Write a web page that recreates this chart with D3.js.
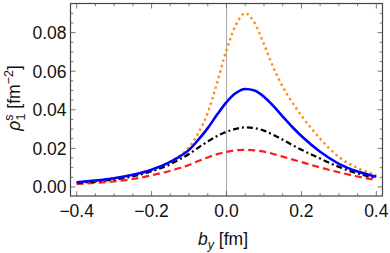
<!DOCTYPE html>
<html><head><meta charset="utf-8">
<script src="https://cdn.jsdelivr.net/npm/d3@7"></script>
<style>html,body{margin:0;padding:0;background:#fff;}svg{display:block;}</style>
</head><body>
<svg id="c" width="390" height="253"></svg>
<script>
const xs = [-0.4,-0.35,-0.3,-0.25,-0.2,-0.15,-0.125,-0.1,-0.075,-0.05,-0.025,0,0.025,0.05,0.075,0.1,0.125,0.15,0.175,0.2,0.25,0.3,0.35,0.4];
const blueY = [0.0024,0.0033,0.0045,0.0063,0.0089,0.0130,0.0157,0.0192,0.0245,0.0305,0.0375,0.0440,0.0487,0.0508,0.0500,0.0468,0.0420,0.0365,0.0312,0.0264,0.0182,0.0120,0.0080,0.0053];
const blackY = [0.0020,0.0028,0.0039,0.0055,0.0081,0.0118,0.0143,0.0171,0.0204,0.0236,0.0264,0.0286,0.0301,0.0309,0.0305,0.0292,0.0270,0.0245,0.0218,0.0193,0.0147,0.0104,0.0070,0.0046];
const redY = [0.0015,0.0021,0.0029,0.0041,0.0060,0.0084,0.0098,0.0114,0.0134,0.0153,0.0170,0.0182,0.0190,0.0192,0.0190,0.0183,0.0171,0.0157,0.0143,0.0129,0.0101,0.0076,0.0054,0.0036];
const orangeY = [0.0024,0.0033,0.0045,0.0063,0.0090,0.0132,0.0162,0.0205,0.0280,0.0385,0.0540,0.0710,0.0840,0.0900,0.0850,0.0740,0.0620,0.0520,0.0440,0.0370,0.0250,0.0155,0.0098,0.0062];
const xTicks = [-0.4,-0.2,0,0.2,0.4];
const yTicks = [0,0.02,0.04,0.06,0.08];

const svg = d3.select("#c");
const L=70.5, R=382.5, T=3.5, B=196;
const x = d3.scaleLinear().domain([-0.4165,0.4165]).range([L,R]);
const y = d3.scaleLinear().domain([-0.0047,0.0951]).range([B,T]);
const font = "'Liberation Sans', Arial, sans-serif";

svg.append("line").attr("x1",x(0)).attr("x2",x(0)).attr("y1",T).attr("y2",B)
  .attr("stroke","#aaa").attr("stroke-width",1);

const line = d3.line().x(d=>x(d[0])).y(d=>y(d[1])).curve(d3.curveMonotoneX);
const series = [
  {yv:redY, color:"#ff1a1a", dash:"7,4", w:2.2},
  {yv:blackY, color:"#000", dash:"6,3,2,3", w:2.2},
  {yv:orangeY, color:"#ff8c1a", dash:"2.4,3.2", w:2.4},
  {yv:blueY, color:"#0000ff", dash:null, w:2.6},
];
svg.append("clipPath").attr("id","cp").append("rect").attr("x",L).attr("y",T).attr("width",R-L).attr("height",B-T);
const g = svg.append("g").attr("clip-path","url(#cp)");
series.forEach(s=>{
  const pts = xs.map((v,i)=>[v,s.yv[i]]);
  const p = g.append("path").attr("d",line(pts)).attr("fill","none")
    .attr("stroke",s.color).attr("stroke-width",s.w);
  if(s.dash) p.attr("stroke-dasharray",s.dash);
});

svg.append("rect").attr("x",L).attr("y",T).attr("width",R-L).attr("height",B-T)
  .attr("fill","none").attr("stroke","#444").attr("stroke-width",1.2);

const tc="#555";
d3.range(-0.4,0.4001,0.05).forEach(v=>{
  const major = xTicks.some(t=>Math.abs(t-v)<1e-6);
  const len = major?5:2.8;
  svg.append("line").attr("x1",x(v)).attr("x2",x(v)).attr("y1",B).attr("y2",B-len).attr("stroke",tc).attr("stroke-width",0.8);
  svg.append("line").attr("x1",x(v)).attr("x2",x(v)).attr("y1",T).attr("y2",T+len).attr("stroke",tc).attr("stroke-width",0.8);
});
d3.range(0,0.09501,0.005).forEach(v=>{
  const major = yTicks.some(t=>Math.abs(t-v)<1e-6);
  const len = major?5:2.8;
  svg.append("line").attr("x1",L).attr("x2",L+len).attr("y1",y(v)).attr("y2",y(v)).attr("stroke",tc).attr("stroke-width",0.8);
  svg.append("line").attr("x1",R).attr("x2",R-len).attr("y1",y(v)).attr("y2",y(v)).attr("stroke",tc).attr("stroke-width",0.8);
});

const fmtX = v => (v<0?"\u2212":"") + Math.abs(v).toFixed(1);
svg.selectAll(".xl").data(xTicks).enter().append("text")
  .attr("x",d=>x(d)).attr("y",217).attr("text-anchor","middle")
  .attr("font-family",font).attr("font-size",17.5).attr("fill","#111").text(fmtX);
svg.selectAll(".yl").data(yTicks).enter().append("text")
  .attr("x",66.5).attr("y",d=>y(d)+6.3).attr("text-anchor","end")
  .attr("font-family",font).attr("font-size",17.5).attr("fill","#111").text(d=>d.toFixed(2));

const xl = svg.append("text").attr("x",223).attr("y",245).attr("text-anchor","middle")
  .attr("font-family",font).attr("font-size",17.5).attr("fill","#111");
xl.append("tspan").attr("font-style","italic").text("b");
xl.append("tspan").attr("font-style","italic").attr("font-size",12.5).attr("dy",4).text("y");
xl.append("tspan").attr("dy",-4).text(" [fm]");

const yl = svg.append("text").attr("transform","translate(20,98) rotate(-90)").attr("text-anchor","middle")
  .attr("font-family",font).attr("font-size",17.5).attr("fill","#111");
yl.append("tspan").attr("font-style","italic").text("\u03c1");
yl.append("tspan").attr("font-size",12.5).attr("dy",-7).text("s");
yl.append("tspan").attr("font-size",12.5).attr("dx",-6).attr("dy",12).text("1");
yl.append("tspan").attr("dy",-5).text(" [fm");
yl.append("tspan").attr("font-size",12.5).attr("dy",-7).text("\u22122");
yl.append("tspan").attr("dy",7).text("]");
</script>
</body></html>
